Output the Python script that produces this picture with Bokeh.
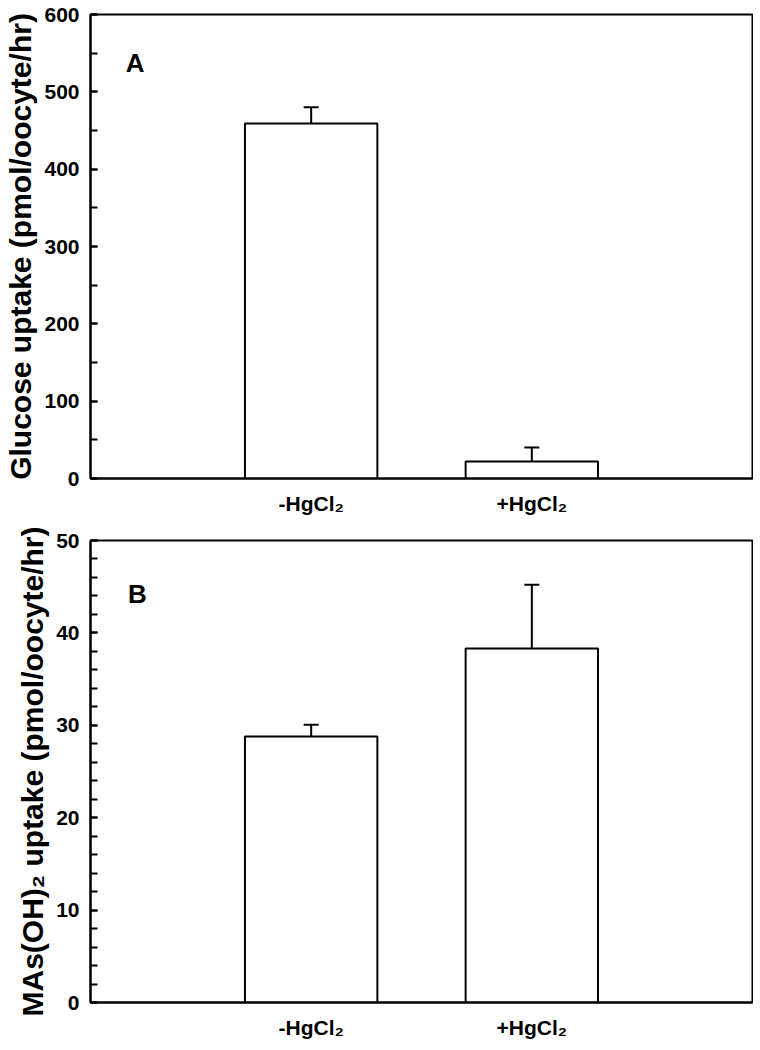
from bokeh.plotting import figure
from bokeh.models import ColumnDataSource, Whisker, FixedTicker, Label, Range1d, TeeHead
from bokeh.layouts import column
from bokeh.embed import file_html
from bokeh.resources import INLINE

# ---- data ----
categories = ["-HgCl\u2082", "+HgCl\u2082"]
positions = [1, 2]
glucose = [459, 22]
glucose_err = [21, 18]
mas = [28.8, 38.3]
mas_err = [1.25, 6.9]

FONT = "Liberation Sans"


def panel(values, errs, ymax, ystep, nminor, ylabel, letter, letter_xy,
          top_border, bottom_border, frame_h):
    p = figure(output_backend="svg", toolbar_location=None,
               frame_width=662, frame_height=frame_h,
               min_border_left=90, min_border_right=1,
               min_border_top=top_border, min_border_bottom=bottom_border,
               x_range=Range1d(0, 3), y_range=Range1d(0, ymax))
    p.grid.visible = False
    p.outline_line_color = "black"
    p.outline_line_width = 2
    p.outline_line_alpha = 1
    p.background_fill_color = "white"
    p.border_fill_color = "white"

    upper = [v + e for v, e in zip(values, errs)]
    src = ColumnDataSource(dict(x=positions, top=values, upper=upper))
    p.vbar(x="x", top="top", bottom=0, width=0.6, source=src,
           fill_color="white", line_color="black", line_width=2)
    w = Whisker(base="x", lower="top", upper="upper", source=src,
                line_color="black", line_width=2,
                upper_head=TeeHead(size=15, line_width=2, line_color="black"),
                lower_head=None)
    p.add_layout(w)

    # x axis
    xa = p.xaxis[0]
    xa.ticker = FixedTicker(ticks=positions)
    xa.major_label_overrides = {pos: c for pos, c in zip(positions, categories)}
    xa.major_tick_in = 0
    xa.major_tick_out = 0
    xa.minor_tick_in = 0
    xa.minor_tick_out = 0
    xa.major_label_standoff = 13
    xa.major_label_text_font = FONT
    xa.major_label_text_font_style = "bold"
    xa.major_label_text_font_size = "21px"
    xa.major_label_text_color = "black"
    xa.axis_line_color = "black"
    xa.axis_line_width = 2

    # y axis
    ya = p.yaxis[0]
    ya.ticker = FixedTicker(ticks=list(range(0, ymax + 1, ystep)),
                            minor_ticks=[i * ystep / nminor for i in range(0, (ymax // ystep) * nminor + 1)])
    ya.major_tick_in = 7
    ya.major_tick_out = 0
    ya.minor_tick_in = 7
    ya.minor_tick_out = 0
    ya.major_tick_line_width = 2
    ya.minor_tick_line_width = 2
    ya.major_label_standoff = 11
    ya.major_label_text_font = FONT
    ya.major_label_text_font_style = "bold"
    ya.major_label_text_font_size = "21px"
    ya.major_label_text_color = "black"
    ya.axis_line_color = "black"
    ya.axis_line_width = 2
    ya.axis_label = ylabel
    ya.axis_label_text_font = FONT
    ya.axis_label_text_font_style = "bold"
    ya.axis_label_text_font_size = "30px"
    ya.axis_label_text_color = "black"
    ya.axis_label_standoff = 4

    p.add_layout(Label(x=letter_xy[0], y=letter_xy[1], text=letter,
                       text_font=FONT, text_font_style="bold",
                       text_font_size="26px", text_color="black",
                       text_baseline="alphabetic"))
    return p


pA = panel(glucose, glucose_err, 600, 100, 2,
           "Glucose uptake (pmol/oocyte/hr)", "A", (0.16, 537),
           top_border=14, bottom_border=40, frame_h=464)
pB = panel(mas, mas_err, 50, 10, 5,
           "MAs(OH)\u2082 uptake (pmol/oocyte/hr)", "B", (0.17, 44.2),
           top_border=22, bottom_border=36, frame_h=462)

layout = column(pA, pB, spacing=0)
open("out.html", "w").write(file_html(layout, INLINE))
